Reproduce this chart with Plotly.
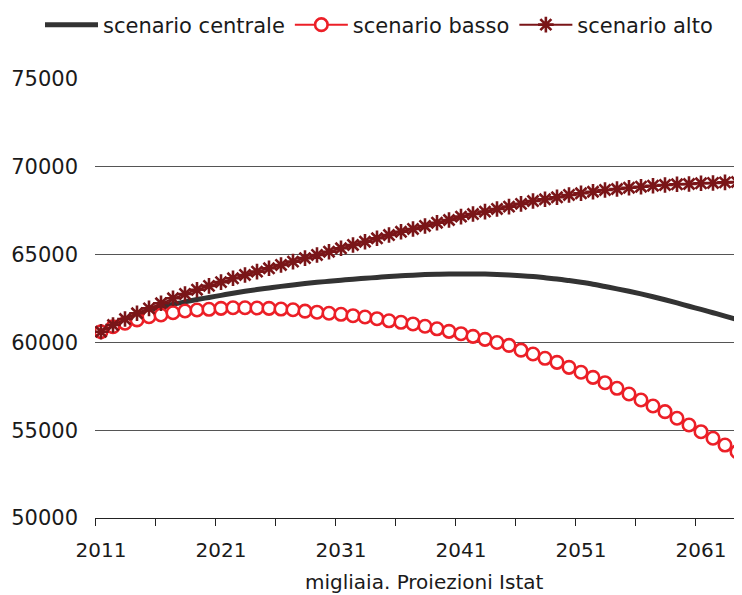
import plotly.graph_objects as go

years = list(range(2011, 2066))

centrale = [60610, 60960, 61270, 61550, 61800, 62010, 62170, 62310, 62440, 62560,
            62680, 62800, 62910, 63010, 63100, 63190, 63270, 63350, 63420, 63480,
            63540, 63600, 63650, 63700, 63750, 63790, 63830, 63860, 63880, 63895,
            63900, 63900, 63890, 63870, 63840, 63800, 63750, 63680, 63610, 63520,
            63420, 63310, 63180, 63050, 62910, 62760, 62600, 62430, 62250, 62060,
            61880, 61690, 61500, 61300, 61100]

basso = [60610, 60890, 61090, 61280, 61460, 61560, 61690, 61790, 61845, 61885,
         61940, 61975, 61975, 61960, 61940, 61900, 61860, 61780, 61720, 61660,
         61600, 61520, 61445, 61350, 61230, 61145, 61050, 60920, 60775, 60630,
         60495, 60345, 60175, 59995, 59830, 59560, 59340, 59095, 58865, 58580,
         58300, 58010, 57705, 57385, 57060, 56720, 56380, 56055, 55680, 55295,
         54915, 54540, 54155, 53775, 53390]

alto = [60610, 60990, 61330, 61660, 61940, 62230, 62510, 62760, 63000, 63220,
        63430, 63650, 63840, 64030, 64220, 64410, 64600, 64800, 64980, 65165,
        65360, 65550, 65735, 65930, 66115, 66300, 66460, 66630, 66815, 66970,
        67160, 67310, 67445, 67600, 67730, 67890, 68050, 68150, 68265, 68395,
        68490, 68580, 68680, 68735, 68810, 68865, 68925, 68965, 69005, 69020,
        69060, 69080, 69115, 69135, 69150]

x_labels = [2011, 2021, 2031, 2041, 2051, 2061]
x_tick_marks = [2010.5 + 5 * i for i in range(12)]
y_ticks = [50000, 55000, 60000, 65000, 70000, 75000]
y_labels = ["50000", "55000", "60000", "65000", "70000", "75000"]

FONT = "DejaVu Sans"
TXT = "#1a1a1a"

fig = go.Figure()
fig.add_trace(go.Scatter(
    x=years, y=centrale, name="scenario centrale", mode="lines",
    line=dict(color="#333333", width=5, shape="spline"),
))
fig.add_trace(go.Scatter(
    x=years, y=basso, name="scenario basso", mode="lines+markers",
    line=dict(color="#ec1f27", width=2),
    marker=dict(symbol="circle", size=12.5, color="white",
                line=dict(color="#ec1f27", width=2.6)),
))
fig.add_trace(go.Scatter(
    x=years, y=alto, name="scenario alto", mode="lines+markers",
    line=dict(color="#7a1518", width=2),
    marker=dict(symbol="asterisk-open", size=13,
                line=dict(color="#7a1518", width=2.6)),
))

# page body has an 8px margin: figure origin sits at (8, 8) on screen
fig.update_layout(
    width=734, height=587,
    margin=dict(l=87, r=0, t=71, b=77, autoexpand=False),
    paper_bgcolor="white", plot_bgcolor="white",
    font=dict(family=FONT, size=20, color=TXT),
    showlegend=True,
    legend=dict(orientation="h", x=-0.085, xanchor="left", y=1.123, yanchor="middle",
                font=dict(family=FONT, size=21, color=TXT),
                itemwidth=53, tracegroupgap=0, bgcolor="rgba(0,0,0,0)"),
    xaxis=dict(
        range=[2010.5, 2010.5 + 647 / 12], automargin=False,
        tickvals=x_labels, ticktext=[str(v) for v in x_labels],
        ticks="", showgrid=False, zeroline=False,
        showline=True, linecolor="#222222", linewidth=1,
        tickfont=dict(family=FONT, size=20, color=TXT),
        ticklabelstandoff=14,
        minor=dict(tickvals=x_tick_marks, ticks="outside", ticklen=7,
                   tickcolor="#222222", tickwidth=1, showgrid=False),
    ),
    yaxis=dict(
        range=[50000, 75000], tickvals=y_ticks, ticktext=y_labels, automargin=False,
        ticks="", showgrid=True, gridcolor="#555555", gridwidth=1,
        zeroline=False, showline=False,
        tickfont=dict(family=FONT, size=21, color=TXT),
        ticklabelstandoff=16,
    ),
    annotations=[dict(
        text="migliaia. Proiezioni Istat", xref="paper", yref="paper",
        x=(424 - 95) / 647, y=-0.146, xanchor="center", yanchor="middle",
        showarrow=False, font=dict(family=FONT, size=20, color=TXT),
    )],
)

fig.write_html("out.html")
